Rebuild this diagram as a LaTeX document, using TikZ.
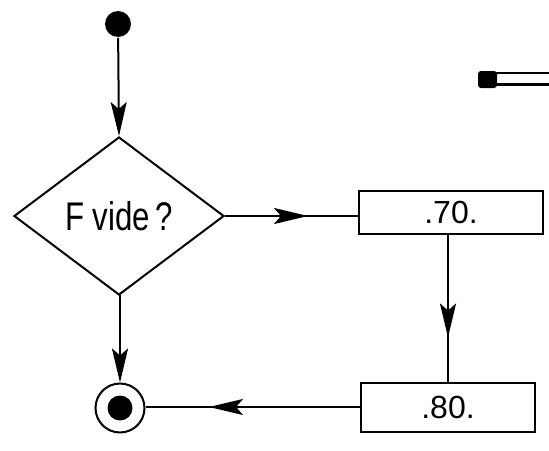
\documentclass[tikz,border=0pt]{standalone}
\usepackage{fontspec}
\setmainfont{Liberation Sans}
\usetikzlibrary{shapes.geometric,arrows.meta,decorations.markings}
\begin{document}
\begin{tikzpicture}[x=1pt,y=-1pt,
  line width=2pt,
  headtip/.tip={Stealth[length=34pt,width=16pt,inset=7pt]},
  endtip/.style={-{headtip}},
  midtip/.style={postaction={decorate},decoration={markings,mark=at position #1 with {\arrow{headtip}}}},
  decision/.style={diamond,draw,inner sep=0pt,aspect=1.33,minimum width=210pt,minimum height=158pt,font=\fontsize{40}{42}\selectfont},
  actbox/.style={rectangle,draw,inner sep=0pt,font=\fontsize{32}{33}\selectfont},
  startdot/.style={circle,fill=black,inner sep=0pt,minimum size=26pt},
  enddot/.style={circle,draw,inner sep=0pt,minimum size=49pt,path picture={\fill (path picture bounding box.center) circle (12.5pt);}}
]
\useasboundingbox (0,0) rectangle (549,450);

\node[startdot] (s) at (118,24) {};
\node[decision] (d) at (119,216) {\scalebox{0.78}[1]{F vide\,?}};
\node[actbox,minimum width=184pt,minimum height=43pt] (b1) at (451,212) {.70.};
\node[actbox,minimum width=174pt,minimum height=49pt] (b2) at (448,407) {.80.};
\node[enddot] (e) at (120,408) {};

\draw[endtip] (s) -- (d.north);
\draw[midtip=83pt] (d.east) -- (d.east -| b1.west);
\draw[midtip=103pt] (b2.north |- b1.south) -- (b2.north);
\draw[midtip=151pt] (b2.west) -- (b2.west -| e.east);
\draw[endtip] (d.south) -- (d.south -| e.north) -- (e.north);

% fragment at the top right
\fill[rounded corners=3pt] (478,71) rectangle (497,88);
\draw[line width=2pt] (494,73) -- (549,73);
\draw[line width=3.5pt] (494,84.5) -- (549,84.5);
\end{tikzpicture}
\end{document}
